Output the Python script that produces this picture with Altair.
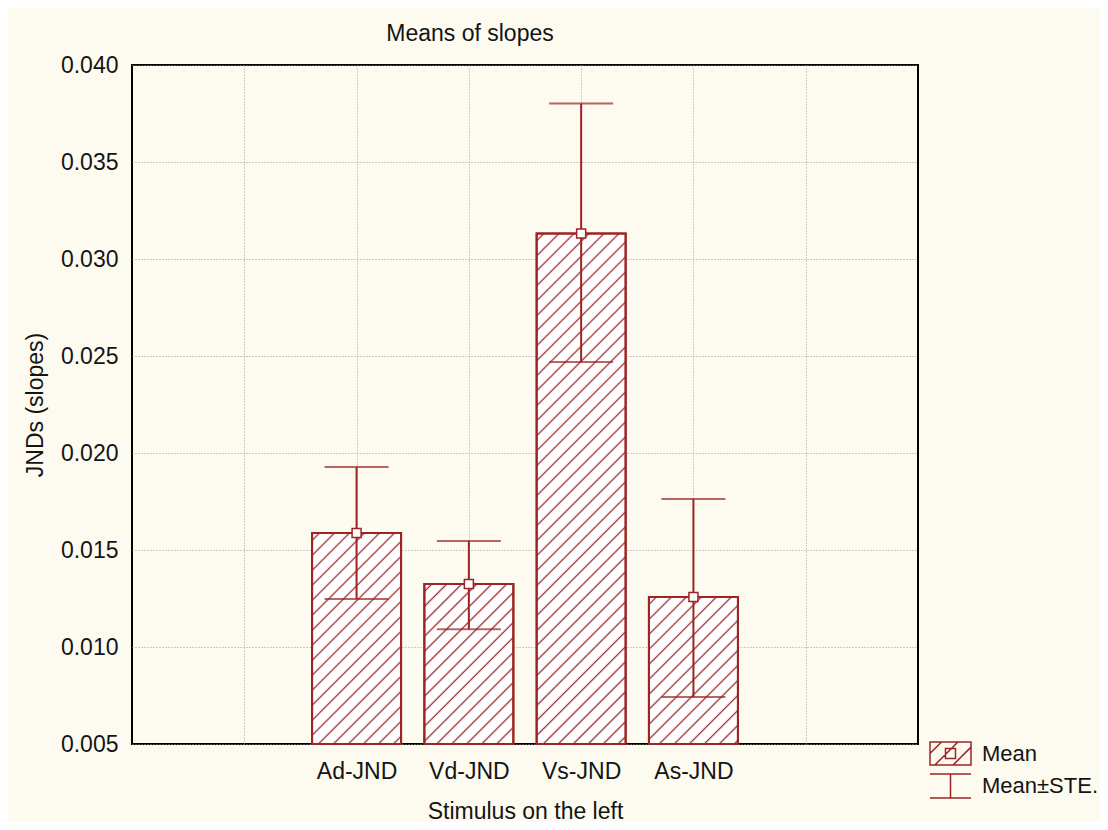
import base64
import altair as alt
import pandas as pd

# ---- data ----
categories = ["Ad-JND", "Vd-JND", "Vs-JND", "As-JND"]
means = [0.01588, 0.01325, 0.03132, 0.01258]
upper = [0.01928, 0.01546, 0.03801, 0.01763]
lower = [0.01247, 0.01091, 0.02469, 0.00742]
y_ticks = [0.005, 0.010, 0.015, 0.020, 0.025, 0.030, 0.035, 0.040]
y_min, y_max = 0.005, 0.040
pad_slots = ["_l", "_r"]          # empty grid slots left/right of the bars
legend_labels = ["Mean", "Mean±STE."]

RED = "#9b2424"
TXT = "#141414"
FONT = "Liberation Sans"
FS = 23

df = pd.DataFrame({"cat": categories, "mean": means, "upper": upper, "lower": lower})
leg_df = pd.DataFrame({"series": legend_labels})

# hatch pattern image (pixel-space pattern, not stretched)
hatch_svg = (
    "<svg xmlns='http://www.w3.org/2000/svg' width='100%' height='100%'>"
    "<defs><pattern id='h' patternUnits='userSpaceOnUse' width='10.6' height='10.6' "
    "patternTransform='rotate(45)'>"
    f"<line x1='5.3' y1='-1' x2='5.3' y2='12' stroke='{RED}' stroke-width='1.3'/>"
    "</pattern></defs>"
    "<rect width='100%' height='100%' fill='url(#h)'/></svg>"
)
hatch_url = "data:image/svg+xml;base64," + base64.b64encode(hatch_svg.encode()).decode()

x_enc = alt.X(
    "cat:N",
    scale=alt.Scale(type="point", domain=[pad_slots[0]] + categories + [pad_slots[1]], padding=1),
    sort=None,
    title="Stimulus on the left",
    axis=alt.Axis(
        labelExpr="slice(datum.value, 0, 1) == '_' ? '' : datum.value",
        labelAngle=0,
        grid=True,
        domain=False,
        ticks=False,
        tickSize=0,
        labelPadding=16,
        titleY=67,
        titleBaseline="middle",
    ),
)
y_enc = alt.Y(
    "mean:Q",
    scale=alt.Scale(domain=[y_min, y_max], zero=False, nice=False),
    title="JNDs (slopes)",
    axis=alt.Axis(
        values=y_ticks,
        format=".3f",
        grid=True,
        domain=False,
        ticks=False,
        tickSize=0,
        labelPadding=14,
        titleX=-97,
        titleY=339.5,
        titleBaseline="middle",
    ),
)

base = alt.Chart(df)

bars = base.mark_bar(size=89, fill="white", stroke=RED, strokeWidth=2).encode(
    x=x_enc, y=y_enc, y2=alt.datum(y_min)
)
hatch = base.mark_image(width=89, aspect=False).encode(
    x=x_enc, y=y_enc, y2=alt.datum(y_min), url=alt.value(hatch_url)
)
outline = base.mark_bar(size=89, fillOpacity=0, stroke=RED, strokeWidth=2).encode(
    x=x_enc, y=y_enc, y2=alt.datum(y_min)
)
err = base.mark_rule(color=RED, strokeWidth=2).encode(
    x=x_enc, y=alt.Y("lower:Q"), y2=alt.Y2("upper:Q")
)
cap_lo = base.mark_tick(color=RED, size=64, thickness=2).encode(x=x_enc, y=alt.Y("lower:Q"))
cap_hi = base.mark_tick(color=RED, size=64, thickness=2).encode(x=x_enc, y=alt.Y("upper:Q"))
pts = base.mark_square(size=81, fill="white", stroke=RED, strokeWidth=1.5, opacity=1).encode(
    x=x_enc, y=y_enc
)

sym_mean = (
    "M-1.577,-0.885H1.577V0.885H-1.577Z "
    "M-1.577,0L-0.692,-0.885 M-1.2,0.885L0.57,-0.885 M0.2,0.885L1.577,-0.492 "
    "M-0.385,-0.385H0.385V0.385H-0.385Z"
)
sym_err = "M-1.577,-0.93H1.577 M0,-0.93V0.93 M-1.577,0.93H1.577"

legend_layer = alt.Chart(leg_df).mark_point(filled=False, color=RED, strokeWidth=1.5).encode(
    shape=alt.Shape(
        "series:N",
        sort=None,
        scale=alt.Scale(domain=legend_labels, range=[sym_mean, sym_err]),
        legend=alt.Legend(
            orient="none",
            legendX=804.5,
            legendY=674.5,
            title=None,
            symbolSize=676,
            symbolStrokeWidth=1.5,
            symbolStrokeColor=RED,
            symbolFillColor="transparent",
            symbolOpacity=1,
            labelFontSize=FS - 1,
            labelFont=FONT,
            labelColor=TXT,
            labelOffset=17.5,
            rowPadding=1.5,
            padding=0,
        ),
    ),
    opacity=alt.value(0),
)

chart = (
    alt.layer(bars, hatch, outline, err, cap_lo, cap_hi, pts, legend_layer)
    .properties(
        width=786,
        height=679,
        padding={"left": 124, "top": 57, "right": 182, "bottom": 78},
        autosize=alt.AutoSizeParams(type="none"),
        title=alt.TitleParams(
            "Means of slopes",
            font=FONT,
            fontSize=FS,
            fontWeight="normal",
            color=TXT,
            anchor="middle",
            frame="group",
            dx=-55,
            dy=32,
            offset=29,
            baseline="middle",
        ),
    )
    .configure(background="#fdfbf0")
    .configure_view(fill="white", stroke="black", strokeWidth=2)
    .configure_axis(
        labelFont=FONT,
        labelFontSize=FS,
        labelColor=TXT,
        titleFont=FONT,
        titleFontSize=FS,
        titleFontWeight="normal",
        titleColor=TXT,
        gridColor="#9a9a9a",
        gridDash=[1, 2],
        gridWidth=1,
    )
)

chart.save("out.html", embed_options={"renderer": "svg", "actions": False})
